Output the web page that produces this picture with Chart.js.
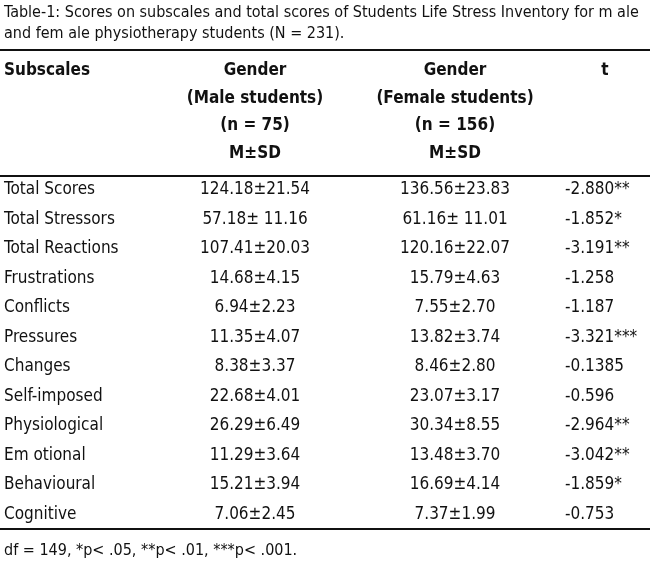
<!DOCTYPE html>
<html><head><meta charset="utf-8">
<script src="https://cdn.jsdelivr.net/npm/chart.js@4"></script>
<style>html,body{margin:0;padding:0;background:#fff}#wrap{width:650px;height:569px}</style>
</head><body><div id="wrap"><canvas id="tbl"></canvas></div>
<script>
const subscales = ['Total Scores','Total Stressors','Total Reactions','Frustrations','Conflicts','Pressures','Changes','Self-imposed','Physiological','Em otional','Behavioural','Cognitive'];
const maleMean = ['124.18','57.18','107.41','14.68','6.94','11.35','8.38','22.68','26.29','11.29','15.21','7.06'];
const maleSD = ['21.54',' 11.16','20.03','4.15','2.23','4.07','3.37','4.01','6.49','3.64','3.94','2.45'];
const femaleMean = ['136.56','61.16','120.16','15.79','7.55','13.82','8.46','23.07','30.34','13.48','16.69','7.37'];
const femaleSD = ['23.83',' 11.01','22.07','4.63','2.70','3.74','2.80','3.17','8.55','3.70','4.14','1.99'];
const tValues = ['-2.880**','-1.852*','-3.191**','-1.258','-1.187','-3.321***','-0.1385','-0.596','-2.964**','-3.042**','-1.859*','-0.753'];
const captionLines = ['Table-1: Scores on subscales and total scores of Students Life Stress Inventory for m ale','and fem ale physiotherapy students (N = 231).'];
const headers = [['Gender','(Male students)','(n = 75)','M\u00b1SD'],['Gender','(Female students)','(n = 156)','M\u00b1SD']];
const footnote = 'df = 149, *p< .05, **p< .01, ***p< .001.';

const FONT = '"Liberation Sans Narrow","DejaVu Sans Condensed",sans-serif';

const tablePlugin = {
  id: 'tablePlugin',
  afterDraw(chart) {
    const ctx = chart.ctx, y = chart.scales.y;
    ctx.save();
    ctx.fillStyle = '#111'; ctx.strokeStyle = '#111';
    ctx.textBaseline = 'middle';
    ctx.font = '16px ' + FONT; ctx.textAlign = 'left';
    ctx.fillText(captionLines[0], 4, 13);
    ctx.fillText(captionLines[1], 4, 34);
    ctx.lineWidth = 2;
    [[50],[176],[529]].forEach(([ly]) => { ctx.beginPath(); ctx.moveTo(0, ly); ctx.lineTo(650, ly); ctx.stroke(); });
    ctx.font = 'bold 17px ' + FONT;
    ctx.fillText('Subscales', 4, 71);
    ctx.textAlign = 'center';
    headers[0].forEach((h, i) => ctx.fillText(h, 255, 71 + i * 27.5));
    headers[1].forEach((h, i) => ctx.fillText(h, 455, 71 + i * 27.5));
    ctx.fillText('t', 605, 71);
    ctx.font = '17px ' + FONT;
    subscales.forEach((s, i) => {
      const py = y.getPixelForValue(i);
      ctx.textAlign = 'left'; ctx.fillText(s, 4, py);
      ctx.textAlign = 'center';
      ctx.fillText(maleMean[i] + '\u00b1' + maleSD[i], 255, py);
      ctx.fillText(femaleMean[i] + '\u00b1' + femaleSD[i], 455, py);
      ctx.textAlign = 'left'; ctx.fillText(tValues[i], 565, py);
    });
    ctx.font = '16px ' + FONT; ctx.textAlign = 'left';
    ctx.fillText(footnote, 4, 551);
    ctx.restore();
  }
};

new Chart(document.getElementById('tbl'), {
  type: 'bar',
  data: { labels: subscales, datasets: [{ data: subscales.map(() => null) }] },
  options: {
    indexAxis: 'y', responsive: true, maintainAspectRatio: false, animation: false,
    layout: { padding: { top: 175, bottom: 40, left: 0, right: 0 } },
    plugins: { legend: { display: false }, tooltip: { enabled: false } },
    scales: { y: { type: 'category', display: false, offset: true }, x: { display: false, min: 0, max: 1 } }
  },
  plugins: [tablePlugin]
});
</script></body></html>
